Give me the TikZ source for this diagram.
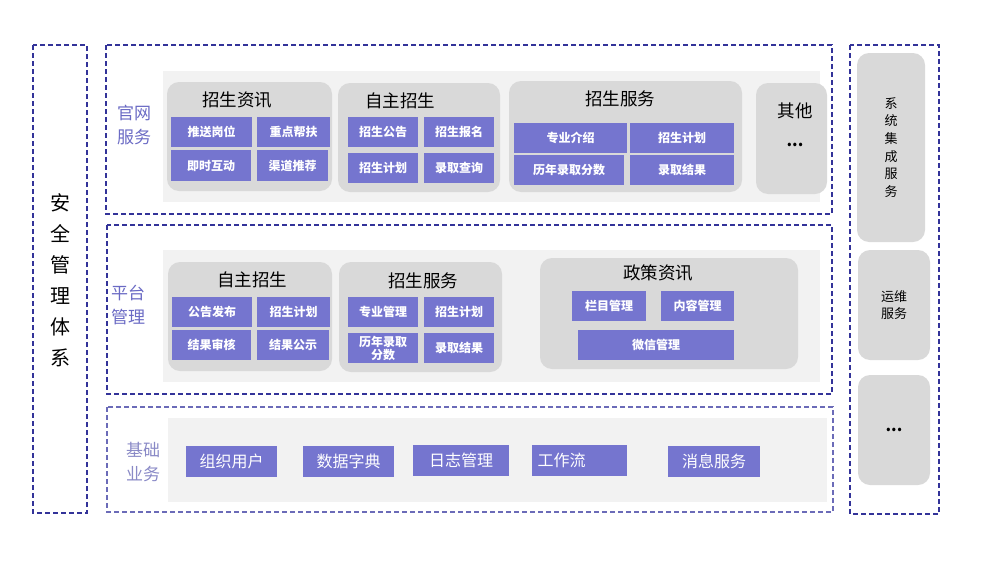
\documentclass[tikz,border=0pt]{standalone}
\usepackage{fontspec}
\setmainfont{Noto Sans CJK SC}
\definecolor{framec}{HTML}{333399}
\definecolor{framelt}{HTML}{6B6BB8}
\definecolor{itemc}{HTML}{7575CF}
\definecolor{groupc}{HTML}{D9D9D9}
\definecolor{panelc}{HTML}{F2F2F2}
\definecolor{labelc}{HTML}{6A6AC4}
\begin{document}
\begin{tikzpicture}[x=1pt,y=-1pt,
  frame/.style={draw=framec,line width=1.8pt,dash pattern=on 5pt off 3pt},
  panel/.style={fill=panelc},
  group/.style={fill=groupc,rounded corners=12pt,inner sep=0pt},
  title/.style={font=\fontsize{17.5}{20}\selectfont},
  item/.style={fill=itemc,text=white,inner sep=0pt,align=center,font=\fontsize{12}{13}\selectfont\bfseries},
  bigitem/.style={item,font=\fontsize{16}{18}\selectfont},
  layer/.style={text=labelc,align=center,font=\fontsize{17}{24}\selectfont},
  side/.style={align=center,font=\fontsize{13}{17.7}\selectfont}]

\useasboundingbox (0,0) rectangle (990,565);

\draw[frame] (33,45) rectangle (87,513);
\draw[frame] (106,45) rectangle (832,214);
\draw[frame] (107,225) rectangle (832,394);
\draw[frame,draw=framelt] (107,407) rectangle (833,512);
\draw[frame] (850,45) rectangle (939,514);

\fill[panel] (163,71) rectangle (820,202);
\fill[panel] (163,250) rectangle (820,382);
\fill[panel] (168,418) rectangle (827,502);

\node[side,font=\fontsize{20}{31}\selectfont] (aq) at (60,280) {安\\全\\管\\理\\体\\系};
\node[layer] (gw) at (134,125) {官网\\服务};
\node[layer] (pt) at (128,305) {平台\\管理};
\node[layer,text=framelt!80] (jc) at (143,462) {基础\\业务};

% groups
\foreach \xa/\ya/\xb/\yb/\n in {167/82/332/191/zx,338/83/500/192/zz,509/81/742/192/zf,756/83/827/194/qt,
  168/262/332/371/pzz,339/262/502/372/pzf,540/258/798/369/pzc,
  857/53/925/242/jcfw,858/250/930/360/ywfw,858/375/930/485/qtfw}
{
\node[group,minimum width=\xb-\xa,minimum height=\yb-\ya] (\n) at ({(\xa+\xb)/2},{(\ya+\yb)/2}) {};
}

\node[title] (zxt) at (237,100) {招生资讯};
\node[title] (zzt) at (400,101) {自主招生};
\node[title] (zft) at (620,99) {招生服务};
\node[title] (qtt) at (795,111) {其他};
\node[title,font=\fontsize{16}{18}\selectfont\bfseries] (qtd) at (795,145) {...};
\node[title] (pzzt) at (252,280) {自主招生};
\node[title] (pzft) at (423,281) {招生服务};
\node[title] (pzct) at (658,273) {政策资讯};
\node[side] (jct) at (jcfw) {系\\统\\集\\成\\服\\务};
\node[side] (ywt) at (ywfw) {运维\\服务};
\node[title,font=\fontsize{16}{18}\selectfont\bfseries] (qtft) at (894,430) {...};

% items
\foreach \xa/\ya/\xb/\yb/\txt [count=\i] in {171/117/252/147/推送岗位,257/117/330/147/重点帮扶,171/150/251/181/即时互动,257/150/328/181/渠道推荐,
  348/117/418/147/招生公告,424/117/494/147/招生报名,348/153/418/183/招生计划,424/153/494/183/录取查询,
  514/123/627/153/专业介绍,630/123/734/153/招生计划,514/155/624/185/历年录取分数,630/155/734/185/录取结果,
  172/297/252/327/公告发布,257/297/330/327/招生计划,172/330/251/360/结果审核,257/330/329/360/结果公示,
  348/297/418/327/专业管理,424/297/494/327/招生计划,348/333/418/363/历年录取\\分数,424/333/494/363/录取结果,
  572/291/646/321/栏目管理,661/291/734/321/内容管理,578/330/734/360/微信管理}
{
\node[item,minimum width=\xb-\xa,minimum height=\yb-\ya] (it\i) at ({(\xa+\xb)/2},{(\ya+\yb)/2}) {\txt};
}

\foreach \xa/\ya/\xb/\yb/\txt [count=\i] in {186/446/277/477/组织用户,303/446/394/477/数据字典,413/445/509/476/日志管理,668/446/760/477/消息服务}
{
\node[bigitem,minimum width=\xb-\xa,minimum height=\yb-\ya] (jc\i) at ({(\xa+\xb)/2},{(\ya+\yb)/2}) {\txt};
}
\node[bigitem,minimum width=95,minimum height=31,text width=84,align=left] (gzl) at (579.5,460.5) {工作流};

\end{tikzpicture}
\end{document}
